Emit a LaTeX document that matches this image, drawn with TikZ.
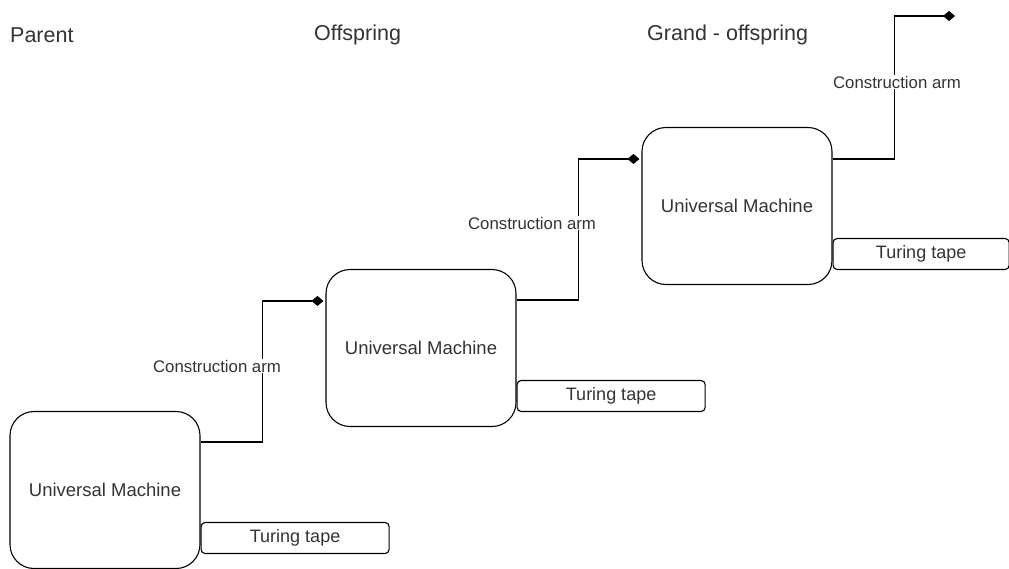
\documentclass[tikz,border=0pt]{standalone}
\usepackage{fontspec}
\setmainfont{Liberation Sans}
\usetikzlibrary{arrows.meta}

\definecolor{txt}{HTML}{333333}

\tikzset{
	machine/.style={draw, line width=1.1pt, rounded corners=24pt, minimum width=190pt, minimum height=157pt, inner sep=0pt, text=txt, font=\fontsize{18.5}{20}\selectfont},
	tape/.style={draw, line width=1.1pt, rounded corners=4pt, anchor=north west, minimum width=188pt, minimum height=31pt, inner sep=0pt, text=txt, font=\fontsize{18}{20}\selectfont},
	arm/.style={line width=1.1pt, -{Diamond[length=12pt,width=10pt]}},
	armlabel/.style={fill=white, inner sep=1pt, text=txt, font=\fontsize{16.8}{18}\selectfont},
	title/.style={anchor=west, inner sep=0pt, text=txt, font=\fontsize{21.5}{24}\selectfont}
}

\begin{document}
\begin{tikzpicture}[x=1pt, y=-1pt]
		\useasboundingbox (0,0) rectangle (1009,568);
		% generations
		\node[title] (parent) at (10,35) {Parent};
		\node[title] (off) at (314,35) {Offspring};
		\node[title] (grand) at (647,35) {Grand - offspring};
		% machines
		\node[machine] (m1) at (105,490) {Universal Machine};
		\node[machine] (m2) at (421,348) {Universal Machine};
		\node[machine] (m3) at (737,206) {Universal Machine};
		% tapes
		\node[tape] (t1) at ([yshift=-111pt]m1.north east) {Turing tape};
		\node[tape] (t2) at ([yshift=-111pt]m2.north east) {Turing tape};
		\node[tape, minimum width=176pt] (t3) at ([yshift=-111pt]m3.north east) {Turing tape};
		% construction arms
		\coordinate (tip) at (955,16);
		\draw[arm] ([yshift=-31pt]m1.north east) -- ++(62,0) |- ([xshift=-2pt,yshift=-32pt]m2.north west);
		\draw[arm] ([yshift=-31pt]m2.north east) -- ++(62,0) |- ([xshift=-2pt,yshift=-32pt]m3.north west);
		\draw[arm] ([yshift=-32pt]m3.north east) -- ++(62,0) |- (tip);
		\node[armlabel] (a1) at (217,366) {Construction arm};
		\node[armlabel] (a2) at (532,223) {Construction arm};
		\node[armlabel] (a3) at (897,82) {Construction arm};
	\end{tikzpicture}
\end{document}
